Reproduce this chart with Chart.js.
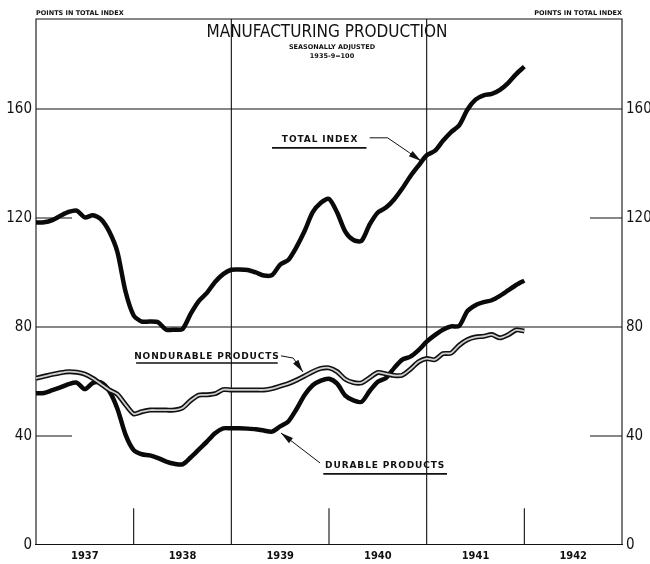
<!DOCTYPE html>
<html>
<head>
<meta charset="utf-8">
<script src="https://cdn.jsdelivr.net/npm/chart.js@4.4.1/dist/chart.umd.min.js"></script>
<style>
  html, body { margin: 0; padding: 0; background: #fff; }
  #wrap { width: 650px; height: 564px; position: relative; }
</style>
</head>
<body>
<div id="wrap"><canvas id="chart"></canvas></div>
<script>
// monthly values, Jan 1937 .. Jan 1942 (1935-39 = 100)
const years = ["1937", "1938", "1939", "1940", "1941", "1942"];
const yTicks = [0, 40, 80, 120, 160];

const totalIndex = [
  118.3, 118.4, 119.2, 120.8, 122.2, 122.7, 120.2, 121, 119.5, 115, 107.5, 93,
  84.2, 82, 82, 81.7, 79, 79, 79.2, 84.8, 89.5, 92.5, 96.5, 99.4,
  101, 101.1, 100.9, 100, 98.9, 99, 102.9, 104.6, 109.3, 115.2, 122.1, 125.6,
  127, 122, 115, 111.9, 111.6, 117.6, 122, 123.8, 126.8, 130.8, 135.3, 139.2,
  143, 144.6, 148.3, 151.5, 154, 159.7, 163.4, 165, 165.5, 167, 169.5, 172.8,
  175.5
];
const durableProducts = [
  55.7, 55.8, 56.8, 57.8, 59, 59.6, 57.2, 59.5, 59.6, 56.5, 50, 40.5,
  34.8, 33.3, 32.9, 31.9, 30.6, 29.8, 29.6, 32.1, 35, 37.9, 41, 42.8,
  42.8, 42.8, 42.7, 42.5, 42, 41.6, 43.5, 45.3, 49.8, 55, 58.6, 60.3,
  61, 59.2, 54.8, 53.1, 52.5, 56.5, 59.9, 61.3, 64.9, 68, 69.1, 71.5,
  74.6, 77, 79, 80.2, 80.4, 85.8, 88, 89.1, 89.8, 91.4, 93.4, 95.4,
  97
];
const nondurableProducts = [
  61.2, 61.9, 62.6, 63.2, 63.6, 63.4, 62.7, 61.1, 59, 56.9, 55.3, 51.5,
  48.1, 48.9, 49.5, 49.5, 49.5, 49.5, 50.3, 53, 55, 55.1, 55.5, 57,
  56.9, 56.9, 56.9, 56.9, 56.9, 57.4, 58.3, 59.2, 60.5, 62, 63.6, 64.8,
  65, 63.6, 60.8, 59.6, 59.5, 61.4, 63.3, 62.8, 62.2, 62.3, 64.5, 67.2,
  68.4, 68, 70.2, 70.4, 73.3, 75.3, 76.3, 76.6, 77.2, 76, 77.1, 78.9,
  78.5
];

const toPoints = (arr) => arr.map((v, i) => ({ x: i, y: v }));

const narrow = "'Liberation Sans Narrow', 'DejaVu Sans Condensed', sans-serif";

// labels with leader arrows, placed in data units (month, value)
const callouts = [
  { text: "TOTAL INDEX", at: [34.9, 148.6], under: [29.0, 40.6, 145.7],
    leader: [[41.0, 149.4], [43.2, 149.4], [45.9, 143.9], [47.3, 140.9]] },
  { text: "NONDURABLE PRODUCTS", at: [21.0, 69.0], under: [12.3, 29.7, 66.8],
    leader: [[30.1, 69.4], [31.6, 68.6], [32.8, 63.5]] },
  { text: "DURABLE PRODUCTS", at: [42.9, 29.0], under: [35.3, 50.5, 26.1],
    leader: [[34.9, 30.1], [30.1, 41.1]] }
];

const framePlugin = {
  id: "frame",
  beforeDatasetsDraw(chart) {
    const { ctx, chartArea: a, scales } = chart;
    const x = scales.x, y = scales.y;
    ctx.save();
    ctx.strokeStyle = "#111";
    ctx.lineWidth = 1.1;
    ctx.beginPath();
    // frame
    ctx.moveTo(a.left, a.bottom); ctx.lineTo(a.left, a.top); ctx.lineTo(a.right, a.top); ctx.lineTo(a.right, a.bottom);
    // full horizontal rules
    [80, 160].forEach(v => { const py = y.getPixelForValue(v); ctx.moveTo(a.left, py); ctx.lineTo(a.right, py); });
    // short horizontal ticks at both sides
    [40, 120].forEach(v => {
      const py = y.getPixelForValue(v);
      ctx.moveTo(a.left, py); ctx.lineTo(a.left + 36, py);
      ctx.moveTo(a.right - 32, py); ctx.lineTo(a.right, py);
    });
    // vertical year rules
    [24, 48].forEach(m => { const px = x.getPixelForValue(m); ctx.moveTo(px, a.top); ctx.lineTo(px, a.bottom); });
    [12, 36, 60].forEach(m => { const px = x.getPixelForValue(m); ctx.moveTo(px, a.bottom); ctx.lineTo(px, y.getPixelForValue(13.5)); });
    ctx.stroke();
    ctx.restore();
  },
  afterDraw(chart) {
    const { ctx, chartArea: a, scales } = chart;
    const x = scales.x, y = scales.y;
    const cx = (a.left + a.right) / 2;
    ctx.save();
    ctx.fillStyle = "#111";
    ctx.textBaseline = "middle";
    // corner captions
    ctx.font = "bold 6.5px 'DejaVu Sans', sans-serif";
    ctx.textAlign = "left";
    ctx.fillText("POINTS IN TOTAL INDEX", a.left, 13);
    ctx.textAlign = "right";
    ctx.fillText("POINTS IN TOTAL INDEX", a.right, 13);
    // titles
    ctx.textAlign = "center";
    ctx.font = "17px " + narrow;
    ctx.fillText("MANUFACTURING PRODUCTION", cx - 2, 33);
    ctx.font = "bold 6.5px 'DejaVu Sans', sans-serif";
    ctx.fillText("SEASONALLY ADJUSTED", cx + 3, 47);
    ctx.fillText("1935-9=100", cx + 3, 56);

    // callouts
    ctx.font = "bold 9px 'DejaVu Sans', sans-serif";
    ctx.letterSpacing = "0.9px";
    ctx.strokeStyle = "#111";
    callouts.forEach(c => {
      ctx.fillText(c.text, x.getPixelForValue(c.at[0]), y.getPixelForValue(c.at[1]));
      ctx.lineWidth = 1.6;
      ctx.beginPath();
      const uy = y.getPixelForValue(c.under[2]);
      ctx.moveTo(x.getPixelForValue(c.under[0]), uy);
      ctx.lineTo(x.getPixelForValue(c.under[1]), uy);
      ctx.stroke();
      ctx.lineWidth = 1;
      ctx.beginPath();
      const pts = c.leader.map(p => [x.getPixelForValue(p[0]), y.getPixelForValue(p[1])]);
      pts.forEach((p, i) => i ? ctx.lineTo(p[0], p[1]) : ctx.moveTo(p[0], p[1]));
      ctx.stroke();
      // arrowhead
      const [tx, ty] = pts[pts.length - 1];
      const [sx, sy] = pts[pts.length - 2];
      const ang = Math.atan2(ty - sy, tx - sx);
      ctx.beginPath();
      ctx.moveTo(tx, ty);
      ctx.lineTo(tx - 13 * Math.cos(ang - 0.25), ty - 13 * Math.sin(ang - 0.25));
      ctx.lineTo(tx - 13 * Math.cos(ang + 0.25), ty - 13 * Math.sin(ang + 0.25));
      ctx.closePath();
      ctx.fill();
    });
    ctx.restore();
  }
};

const tickFont = { family: narrow, size: 15 };

new Chart(document.getElementById("chart"), {
  type: "line",
  data: {
    // first dataset is painted last, so the light core sits on top of the black edge
    datasets: [
      { label: "Nondurable products core", data: toPoints(nondurableProducts), borderColor: "#d0d0d0", borderWidth: 1.8, tension: 0.25 },
      { label: "Nondurable products", data: toPoints(nondurableProducts), borderColor: "#111", borderWidth: 5, tension: 0.25 },
      { label: "Durable products", data: toPoints(durableProducts), borderColor: "#0a0a0a", borderWidth: 4.5, tension: 0.25 },
      { label: "Total index", data: toPoints(totalIndex), borderColor: "#0a0a0a", borderWidth: 4.5, tension: 0.25 }
    ]
  },
  options: {
    responsive: true,
    maintainAspectRatio: false,
    animation: false,
    layout: { padding: { top: 19, left: 0, right: 0, bottom: 0 } },
    elements: { point: { radius: 0 }, line: { borderCapStyle: "butt", borderJoinStyle: "round" } },
    plugins: { legend: { display: false }, tooltip: { enabled: false } },
    scales: {
      x: {
        type: "linear",
        min: 0,
        max: 72,
        grid: { display: false, drawTicks: false },
        border: { color: "#111", width: 1.1 },
        afterBuildTicks: (s) => { s.ticks = years.map((_, i) => ({ value: i * 12 + 6 })); },
        afterFit: (s) => { s.height = 19; },
        ticks: {
          autoSkip: false,
          maxRotation: 0,
          padding: 5,
          color: "#111",
          font: { family: narrow, size: 11, weight: "bold" },
          callback: (v) => years[Math.round((v - 6) / 12)]
        }
      },
      y: {
        position: "left",
        min: 0,
        max: 193,
        grid: { display: false, drawTicks: false },
        border: { display: false },
        afterBuildTicks: (s) => { s.ticks = yTicks.map(v => ({ value: v })); },
        afterFit: (s) => { s.width = 36; },
        ticks: { padding: 4, color: "#111", font: tickFont }
      },
      y2: {
        position: "right",
        min: 0,
        max: 193,
        grid: { display: false, drawTicks: false },
        border: { display: false },
        afterBuildTicks: (s) => { s.ticks = yTicks.map(v => ({ value: v })); },
        afterFit: (s) => { s.width = 28; },
        ticks: { padding: 4, color: "#111", font: tickFont }
      }
    }
  },
  plugins: [framePlugin]
});
</script>
</body>
</html>
